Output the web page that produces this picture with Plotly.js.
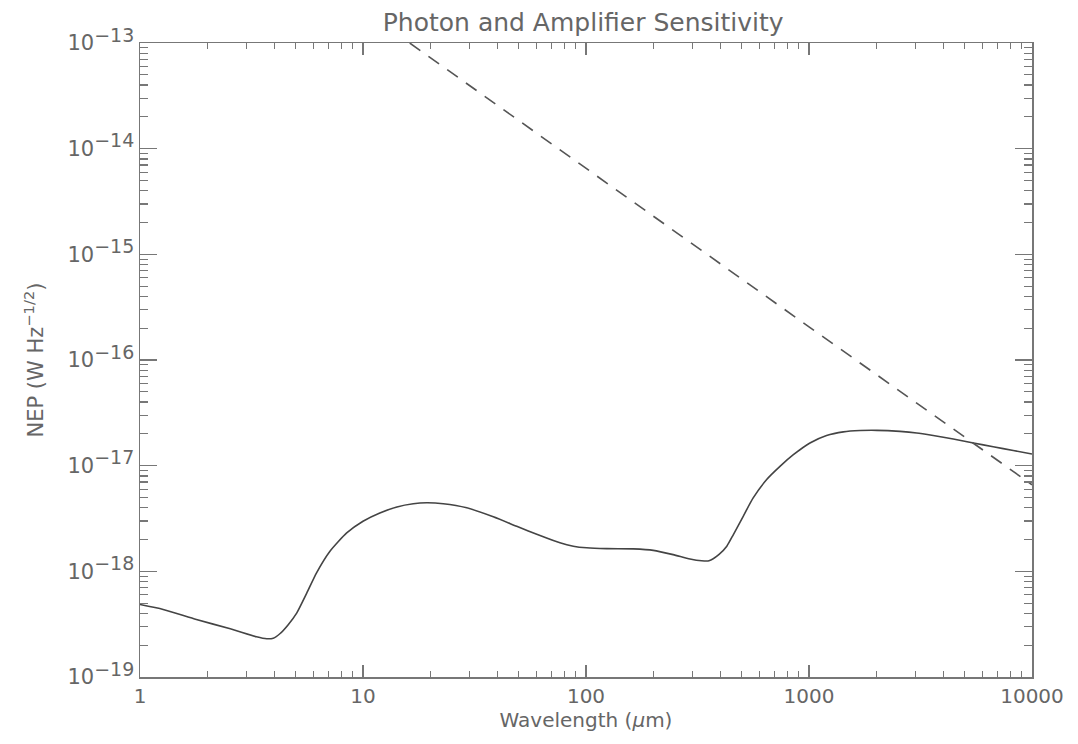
<!DOCTYPE html>
<html>
<head>
<meta charset="utf-8">
<script src="https://cdn.plot.ly/plotly-3.0.1.min.js"></script>
<style>
html,body{margin:0;padding:0;background:#fff;}
#chart{width:1078px;height:744px;}
</style>
</head>
<body>
<div id="chart"></div>
<script>
// Amplifier (solid) curve
var ampWavelength = [1, 1.27, 1.79, 2.54, 3.33, 3.70, 3.96, 4.25, 4.62, 5.05, 5.60, 6.19, 7.11, 8.45, 10.0, 11.9, 14.2, 16.8, 19.3,
  22.9, 29.2, 38.4, 48.9, 62.2, 76.4, 87.7, 100.7, 123.8, 163, 200.4, 246, 292.6, 330,
  356, 394, 428, 458, 507, 562, 646, 741, 851, 1010, 1199, 1426, 1694, 2014, 2559, 3041, 3606, 4436, 5458, 6699, 8241, 10000];
var ampNEP = [4.85e-19, 4.36e-19, 3.50e-19, 2.86e-19, 2.40e-19, 2.30e-19, 2.33e-19, 2.58e-19, 3.13e-19, 4.05e-19, 6.25e-19, 9.68e-19, 1.55e-18, 2.31e-18, 2.98e-18, 3.57e-18, 4.07e-18, 4.36e-18, 4.45e-18,
  4.36e-18, 3.99e-18, 3.28e-18, 2.67e-18, 2.18e-18, 1.86e-18, 1.73e-18, 1.67e-18, 1.64e-18, 1.63e-18, 1.58e-18, 1.44e-18, 1.31e-18, 1.26e-18,
  1.26e-18, 1.44e-18, 1.73e-18, 2.23e-18, 3.32e-18, 4.95e-18, 7.40e-18, 9.86e-18, 1.27e-17, 1.64e-17, 1.93e-17, 2.09e-17, 2.15e-17, 2.16e-17, 2.11e-17, 2.04e-17, 1.93e-17, 1.79e-17, 1.64e-17, 1.51e-17, 1.39e-17, 1.29e-17];

// Photon-noise (dashed) line
var photonWavelength = [16.2, 100, 1000, 10000];
var photonNEP = [1.0e-13, 6.5e-15, 2.06e-16, 6.6e-18];

var xTickVals = [1, 10, 100, 1000, 10000];
var xTickText = ['1', '10', '100', '1000', '10000'];
var yTickVals = [1e-19, 1e-18, 1e-17, 1e-16, 1e-15, 1e-14, 1e-13];
var yExponents = ['\u221219', '\u221218', '\u221217', '\u221216', '\u221215', '\u221214', '\u221213'];
var yTickText = yExponents.map(function (e) {
  return '10<sup><span style="font-size:19px">' + e + '</span></sup>';
});

var traces = [
  {x: ampWavelength, y: ampNEP, type: 'scatter', mode: 'lines',
   line: {color: '#444', width: 1.6, shape: 'spline', smoothing: 0.6}, showlegend: false, hoverinfo: 'skip'},
  {x: photonWavelength, y: photonNEP, type: 'scatter', mode: 'lines',
   line: {color: '#555', width: 1.6, dash: '13px,10px'}, showlegend: false, hoverinfo: 'skip'}
];

var fontFam = '"DejaVu Sans", sans-serif';
var layout = {
  width: 1078, height: 744,
  margin: {l: 140, r: 46, t: 43, b: 67},
  paper_bgcolor: '#fff', plot_bgcolor: '#fff',
  font: {family: fontFam, color: '#666', size: 19},
  title: {text: 'Photon and Amplifier Sensitivity', x: 0.541, xanchor: 'center',
          yref: 'container', y: 0.9704, yanchor: 'middle',
          font: {family: fontFam, size: 25, color: '#666'}},
  xaxis: {
    type: 'log', range: [0, 4], showgrid: false, zeroline: false,
    showline: true, linecolor: '#777', linewidth: 1.5, mirror: 'allticks',
    ticks: 'inside', ticklen: 12, tickwidth: 1.3, tickcolor: '#777',
    tickvals: xTickVals, ticktext: xTickText,
    tickfont: {family: fontFam, size: 20, color: '#666'},
    minor: {ticks: 'inside', ticklen: 6, tickwidth: 1.2, tickcolor: '#777', dtick: 'D1', showgrid: false},
    title: {text: 'Wavelength (<i>\u03bc</i>m)', standoff: 4, font: {family: fontFam, size: 20, color: '#666'}}
  },
  yaxis: {
    type: 'log', range: [-19, -13], showgrid: false, zeroline: false,
    showline: true, linecolor: '#777', linewidth: 1.5, mirror: 'allticks',
    ticks: 'inside', ticklen: 17, tickwidth: 1.3, tickcolor: '#777',
    tickvals: yTickVals, ticktext: yTickText,
    tickfont: {family: fontFam, size: 21, color: '#666'},
    minor: {ticks: 'inside', ticklen: 8, tickwidth: 1.2, tickcolor: '#777', dtick: 'D1', showgrid: false},
    title: {text: 'NEP (W Hz<sup>\u22121/2</sup>)', standoff: 18, font: {family: fontFam, size: 21, color: '#666'}}
  }
};

Plotly.newPlot('chart', traces, layout, {displayModeBar: false, staticPlot: true});
</script>
</body>
</html>
